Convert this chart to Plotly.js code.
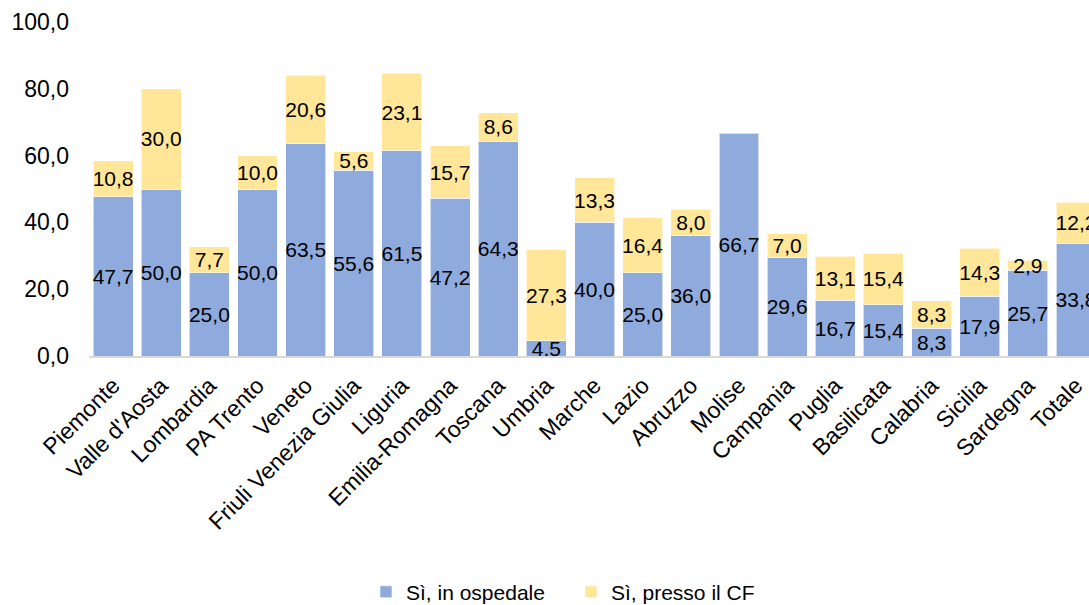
<!DOCTYPE html>
<html>
<head>
<meta charset="utf-8">
<script src="https://cdn.plot.ly/plotly-3.0.1.min.js"></script>
<style>
html, body { margin: 0; padding: 0; overflow: hidden; background: #fff; }
#chart { width: 1089px; height: 605px; }
</style>
</head>
<body>
<div id="chart"></div>
<script>
var categories = ["Piemonte", "Valle d'Aosta", "Lombardia", "PA Trento", "Veneto", "Friuli Venezia Giulia", "Liguria", "Emilia-Romagna", "Toscana", "Umbria", "Marche", "Lazio", "Abruzzo", "Molise", "Campania", "Puglia", "Basilicata", "Calabria", "Sicilia", "Sardegna", "Totale"];
var inOspedale = [47.7, 50.0, 25.0, 50.0, 63.5, 55.6, 61.5, 47.2, 64.3, 4.5, 40.0, 25.0, 36.0, 66.7, 29.6, 16.7, 15.4, 8.3, 17.9, 25.7, 33.8];
var pressoCF = [10.8, 30.0, 7.7, 10.0, 20.6, 5.6, 23.1, 15.7, 8.6, 27.3, 13.3, 16.4, 8.0, null, 7.0, 13.1, 15.4, 8.3, 14.3, 2.9, 12.2];
var seriesNames = ["Sì, in ospedale", "Sì, presso il CF"];
var yTicks = [0, 20, 40, 60, 80, 100];

var FONT = "Liberation Sans, Arial, sans-serif";

function fmt(v) { return v == null ? '' : v.toFixed(1).replace('.', ','); }

var common = {
  type: 'bar',
  x: categories,
  textposition: 'inside',
  insidetextanchor: 'middle',
  textangle: 0,
  constraintext: 'none',
  textfont: {family: FONT, size: 21, color: '#000'},
  hoverinfo: 'x+y+name'
};

var trace1 = Object.assign({}, common, {
  name: seriesNames[0],
  y: inOspedale,
  text: inOspedale.map(fmt),
  marker: {color: '#8FAADC', line: {color: 'rgba(255,255,255,0.6)', width: 1}}
});
var trace2 = Object.assign({}, common, {
  name: seriesNames[1],
  y: pressoCF,
  text: pressoCF.map(fmt),
  marker: {color: '#FFE699', line: {color: 'rgba(255,255,255,0.6)', width: 1}}
});

var layout = {
  width: 1089,
  height: 605,
  barmode: 'stack',
  bargap: 0.17,
  separators: ',.',
  paper_bgcolor: '#ffffff',
  plot_bgcolor: '#ffffff',
  font: {family: FONT, size: 21, color: '#000'},
  margin: {l: 89, r: 0, t: 22, b: 249, pad: 0, autoexpand: false},
  xaxis: {
    range: [-0.5, 20.27],
    tickangle: -45,
    showline: true,
    linecolor: '#d9d9d9',
    linewidth: 2,
    ticks: '',
    showgrid: false,
    zeroline: false,
    automargin: false,
    tickfont: {family: FONT, size: 23, color: '#000'},
    ticklabelstandoff: 5
  },
  yaxis: {
    range: [0, 100],
    tickvals: yTicks,
    tickformat: '.1f',
    showgrid: false,
    zeroline: false,
    showline: false,
    ticks: '',
    automargin: false,
    tickfont: {family: FONT, size: 23, color: '#000'},
    ticklabelstandoff: 19
  },
  showlegend: true,
  legend: {
    orientation: 'h',
    x: 0.277,
    xanchor: 'left',
    y: -0.707,
    yanchor: 'middle',
    font: {family: FONT, size: 21, color: '#000'},
    itemwidth: 30,
    entrywidth: 160,
    traceorder: 'normal'
  }
};

Plotly.newPlot('chart', [trace1, trace2], layout, {displayModeBar: false, responsive: false});
</script>
</body>
</html>
